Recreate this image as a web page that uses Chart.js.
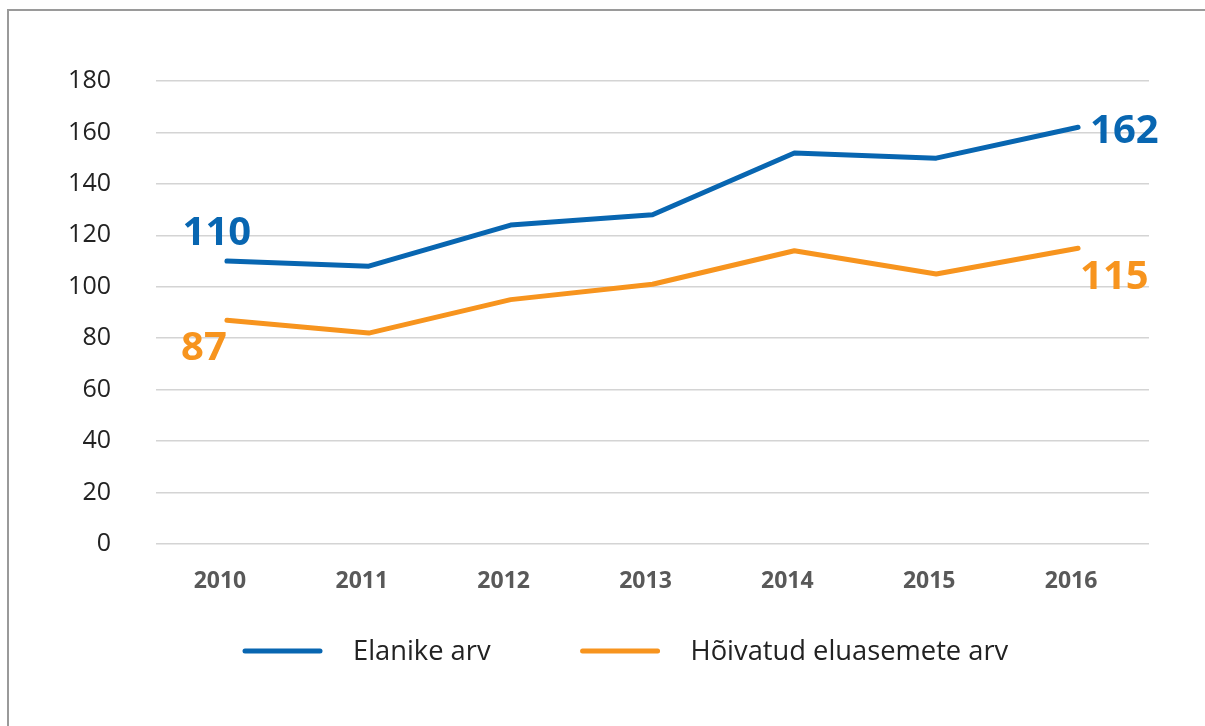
<!DOCTYPE html>
<html>
<head>
<meta charset="utf-8">
<script src="https://cdn.jsdelivr.net/npm/chart.js@4.4.1/dist/chart.umd.min.js"></script>
<style>
  html, body { margin: 0; padding: 0; background: #ffffff; }
  #wrap { position: relative; width: 1205px; height: 726px; overflow: hidden; }
  #frame { position: absolute; left: 7px; top: 9px; width: 1205px; height: 726px;
           border-left: 2px solid #9a9a9a; border-top: 2px solid #9a9a9a; box-sizing: border-box; pointer-events: none; }
  canvas { position: absolute; left: 0; top: 0; }
</style>
</head>
<body>
<div id="wrap">
  <canvas id="c" width="1205" height="726"></canvas>
  <div id="frame"></div>
</div>
<script>
const categories = ['2010', '2011', '2012', '2013', '2014', '2015', '2016'];
const residents = [110, 108, 124, 128, 152, 150, 162];
const dwellings = [87, 82, 95, 101, 114, 105, 115];
const seriesNames = ['Elanike arv', 'Hõivatud eluasemete arv'];
const yTicks = [0, 20, 40, 60, 80, 100, 120, 140, 160, 180];

const BLUE = '#0866b1';
const ORANGE = '#f7941e';
const FONT = "'Open Sans', 'Noto Sans', sans-serif";

// which points get a value label, with offsets relative to the point (px)
const valueLabels = [
  { ds: 0, idx: 0, dx: -10, dy: -27, align: 'center' },
  { ds: 1, idx: 0, dx: -23, dy: 28, align: 'center' },
  { ds: 0, idx: 6, dx: 12, dy: 4, align: 'left' },
  { ds: 1, idx: 6, dx: 2, dy: 29, align: 'left' }
];

const valueLabelPlugin = {
  id: 'valueLabels',
  afterDatasetsDraw(chart) {
    const ctx = chart.ctx;
    ctx.save();
    ctx.font = "bold 40px " + FONT;
    ctx.textBaseline = 'middle';
    valueLabels.forEach(l => {
      const meta = chart.getDatasetMeta(l.ds);
      const pt = meta.data[l.idx];
      const ds = chart.data.datasets[l.ds];
      ctx.fillStyle = ds.borderColor;
      ctx.textAlign = l.align;
      ctx.fillText(String(ds.data[l.idx]), pt.x + l.dx, pt.y + l.dy);
    });
    ctx.restore();
  }
};

const legendPlugin = {
  id: 'customLegend',
  afterDraw(chart) {
    const ctx = chart.ctx;
    ctx.save();
    ctx.font = "27.3px " + FONT;
    ctx.textBaseline = 'middle';
    ctx.textAlign = 'left';
    const lineLen = 75, gap = 33, itemGap = 92, y = 651;
    let x = 245;
    chart.data.datasets.forEach(ds => {
      ctx.strokeStyle = ds.borderColor;
      ctx.lineWidth = 5;
      ctx.lineCap = 'round';
      ctx.beginPath();
      ctx.moveTo(x, y);
      ctx.lineTo(x + lineLen, y);
      ctx.stroke();
      ctx.fillStyle = '#222222';
      ctx.fillText(ds.label, x + lineLen + gap, y + 1);
      x += lineLen + gap + ctx.measureText(ds.label).width + itemGap;
    });
    ctx.restore();
  }
};

new Chart(document.getElementById('c'), {
  type: 'line',
  data: {
    labels: categories,
    datasets: [
      { label: seriesNames[0], data: residents, borderColor: BLUE, backgroundColor: BLUE,
        borderWidth: 5, pointRadius: 0, tension: 0, borderCapStyle: 'round', borderJoinStyle: 'round' },
      { label: seriesNames[1], data: dwellings, borderColor: ORANGE, backgroundColor: ORANGE,
        borderWidth: 5, pointRadius: 0, tension: 0, borderCapStyle: 'round', borderJoinStyle: 'round' }
    ]
  },
  options: {
    responsive: false,
    animation: false,
    layout: { padding: { left: 0, right: 56, top: 81, bottom: 82 } },
    plugins: { legend: { display: false }, tooltip: { enabled: false } },
    scales: {
      x: {
        offset: true,
        grid: { display: false, drawTicks: false },
        border: { display: false },
        ticks: { color: '#595959', font: { family: FONT, size: 23, weight: 'bold' }, padding: 24, labelOffset: -7 },
        afterFit(axis) { axis.height = 100; }
      },
      y: {
        min: 0, max: 180,
        afterBuildTicks(axis) { axis.ticks = yTicks.map(v => ({ value: v })); },
        grid: { color: '#d4d4d4', lineWidth: 1.5, drawTicks: false },
        border: { display: false },
        ticks: { color: '#222222', font: { family: FONT, size: 25 }, padding: 45 },
        afterFit(axis) { axis.width = 156; }
      }
    }
  },
  plugins: [valueLabelPlugin, legendPlugin]
});
</script>
</body>
</html>
